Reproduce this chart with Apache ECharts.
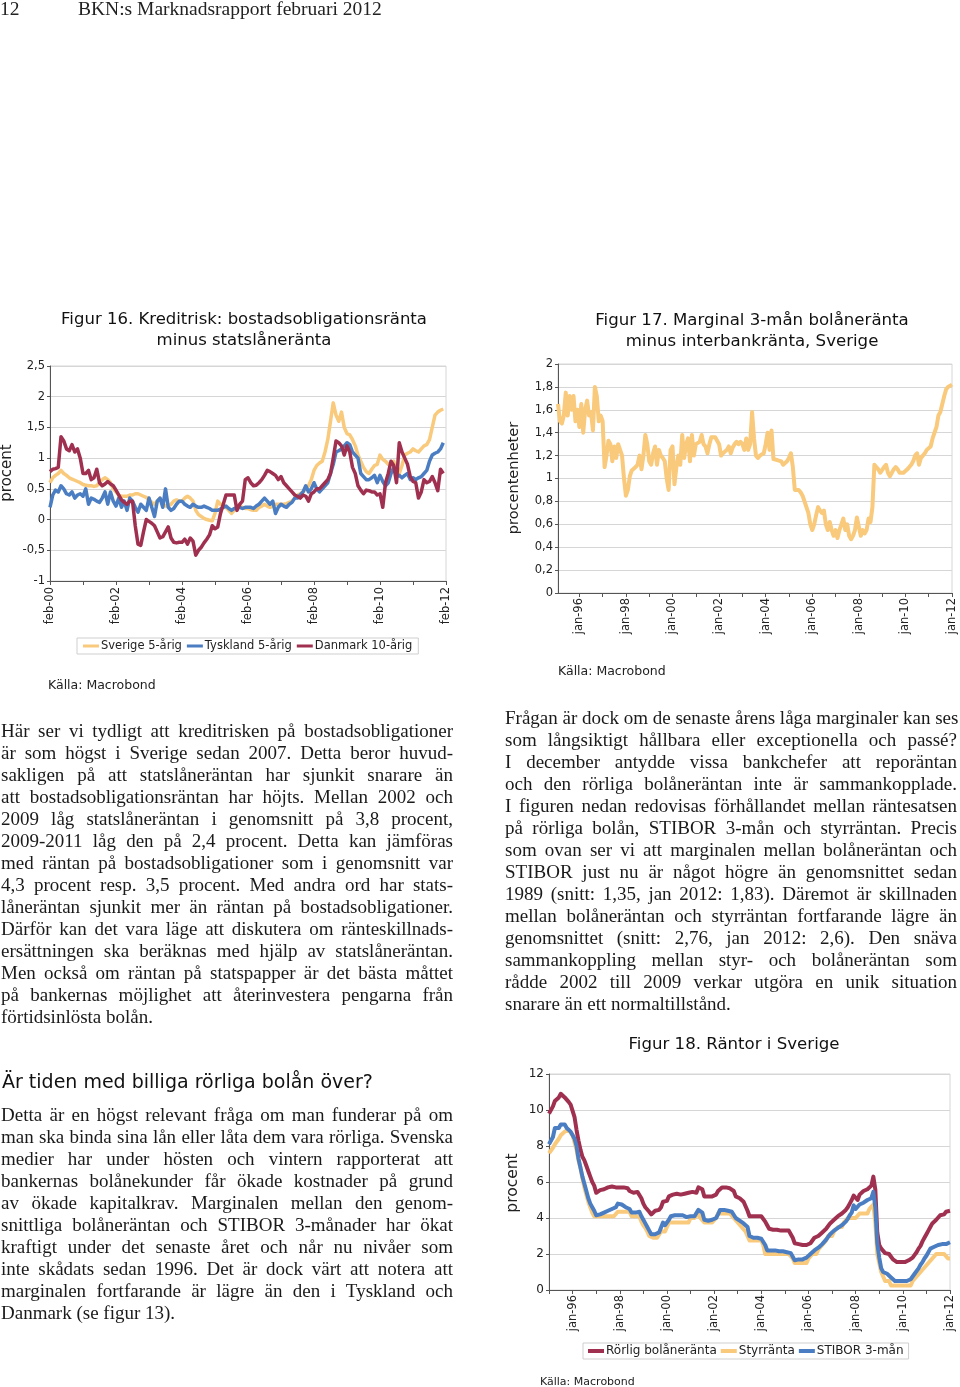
<!DOCTYPE html>
<html><head><meta charset="utf-8">
<script src="https://cdn.jsdelivr.net/npm/echarts@6/dist/echarts.min.js"></script>
<style>
html,body{margin:0;padding:0;background:#fff;}
#page{position:relative;width:960px;height:1387px;overflow:hidden;background:#fff;}
#chart{position:absolute;left:0;top:0;width:960px;height:1387px;}
.txt{position:absolute;font-family:'Liberation Serif',serif;font-size:19px;line-height:22px;color:#1a1a1a;}
.txt div{text-align:justify;text-align-last:justify;white-space:nowrap;}
.txt div.last{text-align-last:left;}
.hdr{position:absolute;top:-2px;font-family:'Liberation Serif',serif;font-size:19.5px;line-height:22px;color:#222;}
.h2{position:absolute;left:2px;top:1069px;font-family:'DejaVu Sans',sans-serif;font-size:19px;line-height:24px;color:#111;}
</style>
</head><body>
<div id="page">
<div id="chart"></div>
<div class="hdr" style="left:0">12</div>
<div class="hdr" style="left:78px">BKN:s Marknadsrapport februari 2012</div>

<div class="txt" style="left:1px;top:720px;width:452px">
<div>Här ser vi tydligt att kreditrisken på bostadsobligationer</div>
<div>är som högst i Sverige sedan 2007. Detta beror huvud-</div>
<div>sakligen på att statslåneräntan har sjunkit snarare än</div>
<div>att bostadsobligationsräntan har höjts. Mellan 2002 och</div>
<div>2009 låg statslåneräntan i genomsnitt på 3,8 procent,</div>
<div>2009-2011 låg den på 2,4 procent. Detta kan jämföras</div>
<div>med räntan på bostadsobligationer som i genomsnitt var</div>
<div>4,3 procent resp. 3,5 procent. Med andra ord har stats-</div>
<div>låneräntan sjunkit mer än räntan på bostadsobligationer.</div>
<div>Därför kan det vara läge att diskutera om ränteskillnads-</div>
<div>ersättningen ska beräknas med hjälp av statslåneräntan.</div>
<div>Men också om räntan på statspapper är det bästa måttet</div>
<div>på bankernas möjlighet att återinvestera pengarna från</div>
<div class="last">förtidsinlösta bolån.</div>
</div>

<div class="h2">Är tiden med billiga rörliga bolån över?</div>

<div class="txt" style="left:1px;top:1104px;width:452px">
<div>Detta är en högst relevant fråga om man funderar på om</div>
<div>man ska binda sina lån eller låta dem vara rörliga. Svenska</div>
<div>medier har under hösten och vintern rapporterat att</div>
<div>bankernas bolånekunder får ökade kostnader på grund</div>
<div>av ökade kapitalkrav. Marginalen mellan den genom-</div>
<div>snittliga bolåneräntan och STIBOR 3-månader har ökat</div>
<div>kraftigt under det senaste året och når nu nivåer som</div>
<div>inte skådats sedan 1996. Det är dock värt att notera att</div>
<div>marginalen fortfarande är lägre än den i Tyskland och</div>
<div class="last">Danmark (se figur 13).</div>
</div>

<div class="txt" style="left:505px;top:707px;width:452px">
<div>Frågan är dock om de senaste årens låga marginaler kan ses</div>
<div>som långsiktigt hållbara eller exceptionella och passé?</div>
<div>I december antydde vissa bankchefer att reporäntan</div>
<div>och den rörliga bolåneräntan inte är sammankopplade.</div>
<div>I figuren nedan redovisas förhållandet mellan räntesatsen</div>
<div>på rörliga bolån, STIBOR 3-mån och styrräntan. Precis</div>
<div>som ovan ser vi att marginalen mellan bolåneräntan och</div>
<div>STIBOR just nu är något högre än genomsnittet sedan</div>
<div>1989 (snitt: 1,35, jan 2012: 1,83). Däremot är skillnaden</div>
<div>mellan bolåneräntan och styrräntan fortfarande lägre än</div>
<div>genomsnittet (snitt: 2,76, jan 2012: 2,6). Den snäva</div>
<div>sammankoppling mellan styr- och bolåneräntan som</div>
<div>rådde 2002 till 2009 verkar utgöra en unik situation</div>
<div class="last">snarare än ett normaltillstånd.</div>
</div>
</div>

<script>
// ---------- DATA ----------
// Figur 16: monthly, feb-00 .. jan-12 (144 values)
const fig16Sverige = [
0.6,0.68,0.72,0.75,0.8,0.75,0.72,0.68,0.66,0.64,0.62,0.6,
0.57,0.56,0.55,0.55,0.54,0.55,0.6,0.65,0.68,0.65,0.6,0.5,
0.45,0.4,0.38,0.38,0.38,0.4,0.4,0.42,0.42,0.4,0.38,0.36,
0.32,0.28,0.25,0.3,0.35,0.25,0.22,0.22,0.25,0.3,0.32,0.3,
0.3,0.35,0.38,0.35,0.3,0.15,0.08,0.05,0.02,0.0,-0.01,-0.02,
0.1,0.3,0.25,0.22,0.2,0.15,0.1,0.15,0.2,0.22,0.2,0.18,
0.18,0.16,0.15,0.15,0.2,0.22,0.25,0.22,0.2,0.22,0.25,0.25,
0.25,0.25,0.26,0.28,0.3,0.35,0.4,0.42,0.45,0.5,0.55,0.65,
0.8,0.88,0.92,0.95,1.1,1.3,1.6,1.9,1.7,1.6,1.75,1.5,
1.4,1.38,1.3,1.2,1.05,0.95,0.85,0.78,0.75,0.82,0.88,0.9,
1.05,0.98,0.95,0.9,0.92,0.95,0.8,0.75,0.88,1.05,1.08,1.1,
1.15,1.12,1.1,1.15,1.2,1.22,1.3,1.5,1.7,1.75,1.78,1.8];
const fig16Tyskland = [
0.2,0.4,0.48,0.45,0.55,0.5,0.42,0.4,0.45,0.35,0.4,0.42,
0.38,0.5,0.25,0.35,0.33,0.3,0.28,0.35,0.45,0.25,0.45,0.3,
0.22,0.35,0.2,0.3,0.15,0.35,0.3,0.2,0.12,0.25,0.2,0.15,
0.35,0.2,0.05,0.3,0.35,0.2,0.5,0.2,0.15,0.18,0.25,0.3,
0.3,0.25,0.22,0.2,0.25,0.22,0.2,0.2,0.22,0.2,0.18,0.15,
0.15,0.15,0.17,0.2,0.22,0.18,0.15,0.18,0.2,0.2,0.18,0.2,
0.2,0.2,0.18,0.22,0.25,0.3,0.35,0.3,0.25,0.3,0.1,0.2,
0.25,0.22,0.2,0.25,0.28,0.35,0.35,0.4,0.45,0.55,0.45,0.5,
0.6,0.5,0.45,0.5,0.55,0.6,0.75,0.9,1.1,1.12,1.15,1.2,
1.25,1.22,1.1,1.05,1.0,0.75,0.7,0.65,0.65,0.68,0.72,0.6,
0.72,0.62,0.55,0.6,0.75,0.85,0.7,0.72,0.68,0.72,0.75,0.65,
0.68,0.65,0.68,0.7,0.75,0.8,0.95,1.05,1.08,1.1,1.15,1.25];
const fig16Danmark = [
0.78,0.82,0.83,0.85,1.35,1.28,1.15,1.12,1.22,1.1,1.15,1.0,
0.75,0.75,0.8,0.65,0.68,0.82,0.6,0.55,0.58,0.62,0.58,0.55,
0.48,0.4,0.32,0.28,0.25,0.3,0.3,-0.1,-0.4,-0.42,-0.2,0.0,
-0.03,-0.06,-0.1,-0.2,-0.3,-0.28,-0.2,-0.12,-0.3,-0.37,-0.38,-0.37,
-0.37,-0.32,-0.4,-0.3,-0.35,-0.58,-0.5,-0.45,-0.38,-0.32,-0.25,-0.1,
-0.15,-0.12,0.1,0.25,0.4,0.4,0.4,0.4,0.15,0.25,0.3,0.65,
0.68,0.6,0.55,0.56,0.6,0.65,0.72,0.8,0.78,0.75,0.72,0.65,
0.7,0.6,0.55,0.5,0.45,0.4,0.38,0.35,0.4,0.38,0.3,0.42,
0.45,0.5,0.5,0.55,0.6,0.65,0.75,1.0,1.28,1.25,1.2,1.05,
1.2,1.1,0.85,0.75,0.55,0.48,0.42,0.48,0.47,0.45,0.45,0.4,
0.42,0.2,0.6,0.75,0.95,0.88,0.6,1.25,1.1,1.0,0.9,0.7,
0.62,0.6,0.35,0.45,0.65,0.6,0.62,0.7,0.6,0.47,0.82,0.75];

// Figur 17: monthly, feb-95 .. jan-12 (204 values)
const fig17Marginal = [
1.65,1.5,1.48,1.55,1.75,1.55,1.72,1.6,1.72,1.5,1.6,1.45,
1.65,1.4,1.6,1.68,1.55,1.58,1.42,1.8,1.72,1.5,1.55,1.5,
1.1,1.2,1.33,1.3,1.15,1.28,1.18,1.3,1.25,1.2,1.0,0.85,
0.9,1.02,1.07,1.08,1.1,1.12,1.2,1.08,1.2,1.38,1.3,1.15,
1.12,1.22,1.28,1.12,1.25,1.2,1.18,1.15,1.0,0.9,1.25,1.28,
0.95,1.1,1.2,1.12,1.38,1.18,1.3,1.35,1.15,1.38,1.2,1.3,
1.3,1.32,1.38,1.3,1.28,1.22,1.3,1.36,1.37,1.36,1.35,1.3,
1.2,1.22,1.22,1.25,1.28,1.22,1.27,1.3,1.32,1.3,1.32,1.3,
1.25,1.35,1.25,1.3,1.58,1.35,1.2,1.18,1.2,1.2,1.22,1.3,
1.4,1.25,1.42,1.17,1.17,1.16,1.15,1.15,1.12,1.13,1.15,1.18,
1.22,1.1,0.9,0.9,0.9,0.88,0.85,0.8,0.75,0.7,0.6,0.55,
0.6,0.68,0.75,0.72,0.7,0.72,0.6,0.55,0.62,0.55,0.5,0.55,
0.48,0.55,0.6,0.65,0.55,0.6,0.5,0.47,0.5,0.55,0.66,0.58,
0.5,0.55,0.52,0.55,0.65,0.62,0.75,1.12,1.1,1.08,1.05,1.05,
1.1,1.12,1.05,1.02,1.05,1.08,1.1,1.08,1.05,1.05,1.05,1.06,
1.08,1.1,1.12,1.15,1.2,1.22,1.12,1.18,1.2,1.22,1.25,1.25,
1.28,1.35,1.4,1.45,1.55,1.58,1.65,1.72,1.78,1.8,1.81,1.82];

// Figur 18: monthly, jan-95 .. jan-12 (205 values)
const fig18Rorlig = [
9.8,9.8,10.2,10.5,10.5,10.7,10.9,10.95,10.7,10.6,10.45,10.3,
10.2,9.6,8.9,8.3,7.8,7.4,7.2,6.9,6.6,6.3,6.0,5.8,
5.4,5.45,5.55,5.65,5.6,5.6,5.7,5.75,5.75,5.7,5.7,5.7,
5.7,5.7,5.7,5.7,5.65,5.5,5.45,5.4,5.4,5.45,5.4,5.1,
4.8,4.6,4.5,4.35,4.2,4.3,4.4,4.4,4.45,4.6,4.9,4.9,
4.95,5.2,5.25,5.3,5.3,5.35,5.35,5.3,5.3,5.35,5.4,5.4,
5.4,5.45,5.4,5.4,5.7,5.7,5.6,5.2,5.2,5.2,5.2,5.2,
5.25,5.3,5.5,5.6,5.7,5.7,5.7,5.7,5.65,5.6,5.5,5.2,
5.2,5.1,5.0,4.9,4.8,4.4,4.1,4.1,4.1,4.1,4.1,4.1,
4.1,4.0,3.8,3.6,3.4,3.35,3.35,3.35,3.35,3.3,3.3,3.3,
3.3,3.3,3.3,3.1,2.9,2.6,2.55,2.55,2.5,2.5,2.5,2.5,
2.55,2.6,2.75,2.9,3.0,3.0,3.1,3.2,3.3,3.4,3.5,3.7,
3.8,3.9,4.0,4.1,4.2,4.25,4.35,4.45,4.6,4.8,5.0,5.25,
5.3,5.0,5.3,5.4,5.5,5.55,5.6,5.7,5.8,6.3,5.6,3.2,
2.5,2.3,2.2,2.05,2.0,2.0,1.85,1.7,1.6,1.55,1.55,1.55,
1.55,1.55,1.6,1.65,1.7,1.8,1.95,2.1,2.3,2.45,2.7,2.9,
3.1,3.3,3.5,3.7,3.8,3.9,4.0,4.15,4.2,4.2,4.35,4.45,4.4];
const fig18Styr = [
7.6,7.7,7.9,8.1,8.2,8.4,8.6,8.7,8.8,8.9,8.9,8.9,
8.6,8.2,7.8,7.2,6.8,6.2,5.7,5.3,4.9,4.6,4.3,4.1,
4.1,4.1,4.1,4.1,4.1,4.1,4.1,4.1,4.1,4.1,4.1,4.35,
4.35,4.35,4.35,4.35,4.35,4.35,4.1,4.1,4.1,4.1,4.1,3.8,
3.6,3.45,3.25,3.0,2.9,2.9,2.9,2.9,2.9,3.25,3.25,3.25,
3.5,3.75,3.75,3.75,3.75,3.75,3.75,3.75,3.75,3.75,3.75,3.75,
4.0,4.0,4.0,4.0,4.25,4.0,4.0,3.75,3.75,3.75,3.75,3.75,
3.75,4.0,4.25,4.25,4.25,4.25,4.25,4.25,4.25,4.25,4.0,4.0,
3.75,3.75,3.5,3.5,3.25,3.25,2.75,2.75,2.75,2.75,2.75,2.75,
2.75,2.5,2.0,2.0,2.0,2.0,2.0,2.0,2.0,2.0,2.0,2.0,
2.0,2.0,2.0,2.0,1.75,1.5,1.5,1.5,1.5,1.5,1.5,1.5,
1.75,1.75,2.0,2.0,2.0,2.25,2.25,2.5,2.5,2.75,3.0,3.0,
3.0,3.25,3.25,3.5,3.5,3.5,3.75,3.75,4.0,4.0,4.0,4.0,
4.0,4.0,4.25,4.25,4.25,4.25,4.25,4.5,4.5,4.75,3.75,2.0,
2.0,1.0,1.0,0.5,0.5,0.5,0.25,0.25,0.25,0.25,0.25,0.25,
0.25,0.25,0.25,0.25,0.25,0.5,0.5,0.75,0.75,1.0,1.0,1.25,
1.25,1.5,1.5,1.75,1.75,2.0,2.0,2.0,2.0,2.0,2.0,1.75,1.75];
const fig18Stibor = [
8.1,8.2,8.5,9.0,9.0,9.0,9.2,9.3,9.2,9.0,8.9,8.8,
8.8,8.4,8.0,7.3,6.8,6.3,5.9,5.5,5.1,4.8,4.6,4.4,
4.15,4.15,4.2,4.3,4.3,4.35,4.4,4.4,4.5,4.6,4.6,4.8,
4.85,4.75,4.7,4.6,4.6,4.5,4.3,4.3,4.3,4.4,4.35,4.1,
3.9,3.7,3.5,3.3,3.1,3.05,3.1,3.15,3.2,3.3,3.75,3.6,
3.7,3.9,4.1,4.1,4.15,4.2,4.15,4.1,4.15,4.1,4.05,4.0,
4.1,4.1,4.1,4.1,4.45,4.4,4.3,3.9,3.9,3.85,3.85,3.9,
3.9,4.0,4.2,4.45,4.5,4.45,4.4,4.4,4.4,4.35,4.3,4.0,
3.9,3.85,3.8,3.7,3.6,3.5,3.0,2.9,2.9,2.9,2.9,2.9,
2.85,2.8,2.5,2.2,2.2,2.2,2.2,2.2,2.2,2.15,2.15,2.15,
2.1,2.1,2.1,2.05,2.0,1.65,1.65,1.7,1.7,1.7,1.75,1.8,
1.9,2.0,2.1,2.2,2.3,2.35,2.45,2.55,2.65,2.8,2.95,3.1,
3.2,3.3,3.4,3.45,3.5,3.6,3.7,3.8,3.95,4.15,4.3,4.7,
4.5,4.55,4.75,4.8,4.85,4.95,5.0,5.05,5.1,5.45,4.6,2.6,
1.8,1.2,1.0,0.95,0.9,0.9,0.7,0.6,0.5,0.5,0.5,0.5,
0.5,0.5,0.5,0.55,0.6,0.75,0.9,1.0,1.2,1.4,1.55,1.75,
1.9,2.1,2.3,2.35,2.4,2.45,2.5,2.5,2.55,2.5,2.55,2.65,2.65];

const legend16 = ['Sverige 5-årig','Tyskland 5-årig','Danmark 10-årig'];
const legend18 = ['Rörlig bolåneränta','Styrränta','STIBOR 3-mån'];

const MON = ['jan','feb','mar','apr','maj','jun','jul','aug','sep','okt','nov','dec'];
function months(y0,m0,y1,m1){const o=[];let y=y0,m=m0;while(y<y1||(y===y1&&m<=m1)){o.push(MON[m-1]+'-'+String(y%100).padStart(2,'0'));m++;if(m>12){m=1;y++;}}return o;}
const cat16 = months(2000,2,2012,2);
const cat17 = months(1995,2,2012,1);
const cat18 = months(1995,1,2012,1);

// ---------- CHART ----------
const FF = "'DejaVu Sans', 'Liberation Sans', sans-serif";
const YEL = '#F9C97C', BLU = '#4A7DC1', RED = '#A0304F';
const AX = '#555', GRID = '#d6d6d6', TXT = '#222';
const comma = v => String(+(+v).toFixed(1)).replace('.', ',');
const evenJan = cats => (i) => /^jan-\d\d$/.test(cats[i]) && (+cats[i].slice(4)) % 2 === 0;
const isJan = cats => (i) => cats[i].startsWith('jan');

function xAxisCfg(grid, cats, labelFn, tickFn, margin){
  return {type:'category', gridIndex:grid, data:cats, boundaryGap:false,
    axisLine:{onZero:false, lineStyle:{color:AX, width:1}},
    axisTick:{show:true, interval:tickFn, length:4, lineStyle:{color:AX}},
    axisLabel:{interval:labelFn, rotate:90, fontSize:11.5, color:TXT, fontFamily:FF, margin:margin},
    splitLine:{show:false}};
}
function yAxisCfg(grid, min, max, step, fmt, fs){
  return {type:'value', gridIndex:grid, min:min, max:max, interval:step,
    axisLine:{show:true, lineStyle:{color:AX}},
    axisTick:{show:true, length:3, lineStyle:{color:AX}},
    axisLabel:{formatter:fmt, fontSize:fs, color:TXT, fontFamily:FF, margin:5},
    splitLine:{show:true, lineStyle:{color:GRID, width:1}}};
}
function line(name, data, color, xi, w){
  return {type:'line', name:name, data:data, xAxisIndex:xi, yAxisIndex:xi,
    showSymbol:false, symbol:'none', lineStyle:{color:color, width:w, join:'round'}, itemStyle:{color:color},
    z:2, silent:true};
}
function txt(x,y,text,size,opts){
  return Object.assign({type:'text', x:x, y:y, silent:true,
    style:Object.assign({text:text, fill:TXT, font:size+'px '+FF, textAlign:'left', textVerticalAlign:'middle'}, (opts&&opts.style)||{})},
    opts&&opts.rot?{rotation:opts.rot}:{});
}

const option = {
  animation:false,
  backgroundColor:'transparent',
  grid:[
    {left:50, top:366, width:396, height:215, show:true, borderColor:GRID, borderWidth:1, containLabel:false},
    {left:558, top:364, width:394, height:229, show:true, borderColor:GRID, borderWidth:1, containLabel:false},
    {left:549, top:1074, width:401, height:216, show:true, borderColor:GRID, borderWidth:1, containLabel:false}
  ],
  xAxis:[
    xAxisCfg(0, cat16, (i)=> i%24===0, (i)=> i%12===0, 6),
    xAxisCfg(1, cat17, evenJan(cat17), isJan(cat17), 5),
    xAxisCfg(2, cat18, evenJan(cat18), isJan(cat18), 5)
  ],
  yAxis:[
    yAxisCfg(0, -1, 2.5, 0.5, comma, 11.5),
    yAxisCfg(1, 0, 2, 0.2, comma, 11.5),
    yAxisCfg(2, 0, 12, 2, comma, 12)
  ],
  legend:[
    {data:legend16, left:77, top:638, orient:'horizontal', icon:'rect', itemWidth:16, itemHeight:3, itemGap:5,
     borderColor:'#cfcfcf', borderWidth:1, padding:[2,6,2,6], selectedMode:false,
     textStyle:{fontSize:11.5, color:TXT, fontFamily:FF, padding:[0,0,0,-3]}},
    {data:legend18, left:583, top:1343, orient:'horizontal', icon:'rect', itemWidth:16, itemHeight:4, itemGap:4,
     borderColor:'#cfcfcf', borderWidth:1, padding:[2,5,2,5], selectedMode:false,
     textStyle:{fontSize:12, color:TXT, fontFamily:FF, padding:[0,0,0,-3]}}
  ],
  series:[
    line(legend16[0], fig16Sverige, YEL, 0, 3.5),
    line(legend16[1], fig16Tyskland, BLU, 0, 3.5),
    line(legend16[2], fig16Danmark, RED, 0, 3.5),
    line('Marginal 3-mån', fig17Marginal, YEL, 1, 4),
    line(legend18[0], fig18Rorlig, RED, 2, 4),
    line(legend18[1], fig18Styr, YEL, 2, 4),
    line(legend18[2], fig18Stibor, BLU, 2, 4)
  ],
  graphic:[
    txt(244, 309, 'Figur 16. Kreditrisk: bostadsobligationsränta\nminus statslåneränta', 16.5,
        {style:{textAlign:'center', textVerticalAlign:'top', lineHeight:21, fill:'#111'}}),
    txt(752, 310, 'Figur 17. Marginal 3-mån bolåneränta\nminus interbankränta, Sverige', 16.6,
        {style:{textAlign:'center', textVerticalAlign:'top', lineHeight:21, fill:'#111'}}),
    txt(734, 1045, 'Figur 18. Räntor i Sverige', 16.6, {style:{textAlign:'center', fill:'#111'}}),
    txt(7, 473, 'procent', 15, {rot:Math.PI/2, style:{textAlign:'center'}}),
    txt(514, 478, 'procentenheter', 14.5, {rot:Math.PI/2, style:{textAlign:'center'}}),
    txt(513, 1183, 'procent', 15.5, {rot:Math.PI/2, style:{textAlign:'center'}}),
    txt(48, 686, 'Källa: Macrobond', 12.5),
    txt(558, 672, 'Källa: Macrobond', 12.5),
    txt(540, 1382, 'Källa: Macrobond', 11)
  ]
};

const chart = echarts.init(document.getElementById('chart'), null, {renderer:'canvas'});
chart.setOption(option);
</script>
</body></html>
